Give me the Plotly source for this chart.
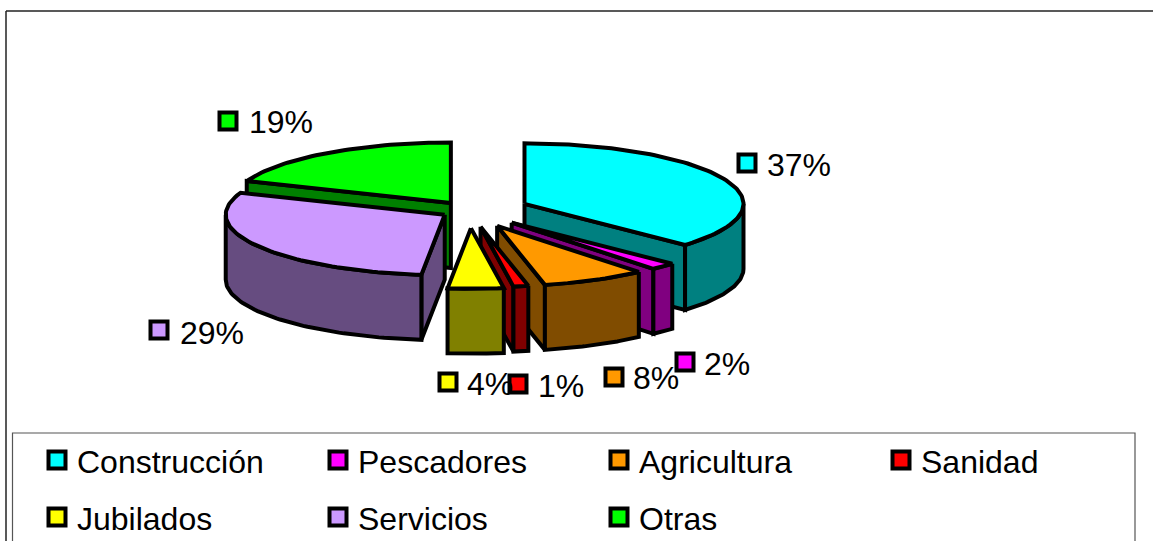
import numpy as np
import plotly.graph_objects as go

# ---- data ----
categories = ["Construcción", "Pescadores", "Agricultura", "Sanidad", "Jubilados", "Servicios", "Otras"]
values = [36.9, 1.9, 7.7, 1.1, 4.1, 29.2, 19.1]
top_colors = ["#00FFFF", "#FF00FF", "#FF9900", "#FF0000", "#FFFF00", "#CC99FF", "#00FF00"]
side_colors = ["#008080", "#800080", "#804C00", "#800000", "#808000", "#664C80", "#008000"]
explode = [60, 61, 62, 60, 64, 29, 33]

# ---- layout / style ----
W, H = 1153, 541
CX, CY = 469.5, 210.5
RX, RY, DEPTH = 219, 60.5, 65
LINE = 4
FONT = "Liberation Sans, Arial, sans-serif"
FS = 32
label_marker_xy = [(747, 163), (685, 362), (614, 377), (518, 384), (448, 382), (159, 330), (228, 121)]
label_text_xy = [(765, 165), (702, 364), (631, 378), (536, 386), (465, 384), (178, 333), (247, 122)]
legend_col_x = [57, 338, 619, 901]
legend_row_y = [460, 517]
LEGEND_TEXT_DX = 17.5

total = sum(values)
fractions = np.cumsum([0] + values) / total
fig = go.Figure()


def poly(xs, ys, color):
    fig.add_trace(go.Scatter(
        x=np.append(xs, xs[0]), y=np.append(ys, ys[0]), mode="lines", fill="toself",
        fillcolor=color, line=dict(color="black", width=LINE, shape="linear"),
        hoverinfo="skip", showlegend=False))


def wedge(i):
    a, b = fractions[i] * 2 * np.pi, fractions[i + 1] * 2 * np.pi
    mid = (a + b) / 2
    ax = CX + explode[i] * np.sin(mid)
    ay = CY - explode[i] * (RY / RX) * np.cos(mid)
    px = lambda t: ax + RX * np.sin(t)
    py = lambda t: ay - RY * np.cos(t)
    # radial walls facing the viewer
    if np.sin(a) < -1e-9:
        poly(np.array([ax, px(a), px(a), ax]), np.array([ay, py(a), py(a) + DEPTH, ay + DEPTH]), side_colors[i])
    if np.sin(b) > 1e-9:
        poly(np.array([ax, px(b), px(b), ax]), np.array([ay, py(b), py(b) + DEPTH, ay + DEPTH]), side_colors[i])
    # outer curved wall (front half only)
    lo, hi = max(a, np.pi / 2), min(b, 3 * np.pi / 2)
    if hi > lo:
        t = np.linspace(lo, hi, 60)
        poly(np.concatenate([px(t), px(t[::-1])]),
             np.concatenate([py(t), py(t[::-1]) + DEPTH]), side_colors[i])
    # top face
    t = np.linspace(a, b, max(6, int((b - a) * 40)))
    poly(np.concatenate([[ax], px(t)]), np.concatenate([[ay], py(t)]), top_colors[i])


# back to front
mids = (fractions[:-1] + fractions[1:]) * np.pi
for i in np.argsort(-np.cos(mids)):
    wedge(int(i))

# data-label swatches and texts
annotations = []
fig.add_trace(go.Scatter(
    x=[p[0] for p in label_marker_xy], y=[p[1] for p in label_marker_xy], mode="markers",
    marker=dict(symbol="square", size=17, color=top_colors, line=dict(color="black", width=4)),
    hoverinfo="skip", showlegend=False))
for v, (x, y) in zip(values, label_text_xy):
    annotations.append(dict(x=x, y=y, text=f"{round(v)}%", xref="x", yref="y", showarrow=False,
                            xanchor="left", yanchor="middle", font=dict(family=FONT, size=FS, color="black")))

# legend
leg_x, leg_y = [], []
for n, name in enumerate(categories):
    x, y = legend_col_x[n % 4], legend_row_y[n // 4]
    leg_x.append(x)
    leg_y.append(y)
    annotations.append(dict(x=x + LEGEND_TEXT_DX, y=y + 2, text=name, xref="x", yref="y", showarrow=False,
                            xanchor="left", yanchor="middle", font=dict(family=FONT, size=FS, color="black")))
fig.add_trace(go.Scatter(
    x=leg_x, y=leg_y, mode="markers",
    marker=dict(symbol="square", size=17, color=top_colors, line=dict(color="black", width=4)),
    hoverinfo="skip", showlegend=False))

shapes = [
    dict(type="line", xref="x", yref="y", x0=6, x1=W, y0=11, y1=11, line=dict(color="#222222", width=1.5)),
    dict(type="line", xref="x", yref="y", x0=6, x1=6, y0=11, y1=H, line=dict(color="#222222", width=1.5)),
    dict(type="rect", xref="x", yref="y", x0=12.5, x1=1135, y0=433, y1=H + 5,
         line=dict(color="#555555", width=1.2), fillcolor="rgba(0,0,0,0)"),
]

fig.update_layout(
    width=W, height=H, autosize=False, margin=dict(l=0, r=0, t=0, b=0),
    paper_bgcolor="white", plot_bgcolor="white", showlegend=False,
    xaxis=dict(range=[0, W], visible=False, fixedrange=True),
    yaxis=dict(range=[H, 0], visible=False, fixedrange=True),
    annotations=annotations, shapes=shapes,
)
fig.write_html("out.html", post_script="document.body.style.margin='0';document.body.style.overflow='hidden';",
               config=dict(displayModeBar=False))
